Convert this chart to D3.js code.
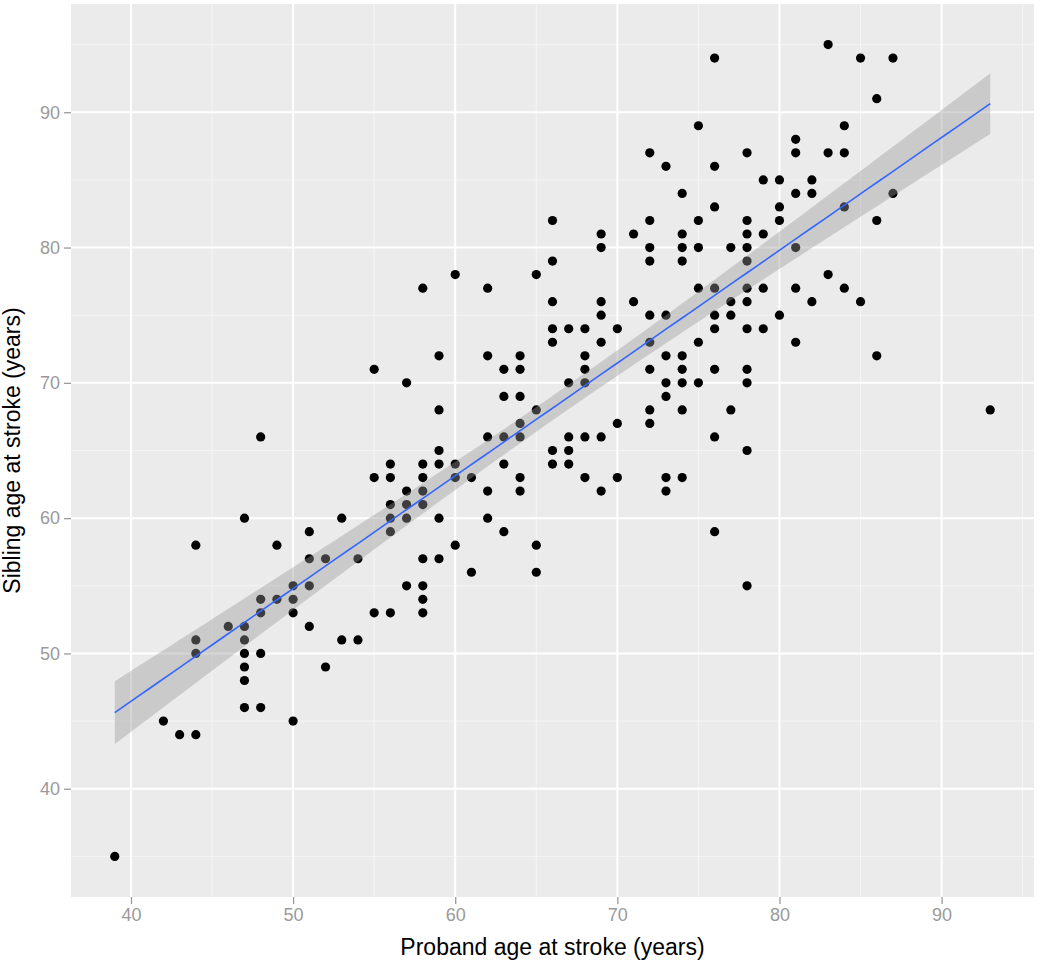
<!DOCTYPE html>
<html><head><meta charset="utf-8">
<script src="https://cdn.jsdelivr.net/npm/d3@7"></script>
<style>body{margin:0;background:#fff}svg{display:block}</style>
</head><body><svg id="c" width="1050" height="964"></svg>
<script>
const probandAge = [48,47,44,49,50,50,50,50,48,49,48,46,47,47,47,48,47,47,47,48,44,44,42,43,44,39,
59,55,57,59,59,56,58,59,60,55,56,58,60,57,58,56,57,58,56,57,59,53,56,51,60,51,52,54,58,59,51,57,58,58,55,56,58,51,53,54,52,58,
66,69,69,60,65,66,62,66,69,69,66,67,68,66,69,62,64,68,63,64,68,67,68,63,64,65,64,62,63,64,67,68,69,66,67,63,66,67,61,64,68,62,64,69,62,63,65,61,65,
75,72,73,74,72,75,71,74,72,74,75,72,74,75,71,72,73,70,72,75,73,74,72,74,
76,78,76,79,80,76,80,78,80,78,79,77,78,78,76,78,79,77,78,76,77,80,76,78,79,
76,78,73,74,75,78,73,72,74,77,70,72,76,78,70,73,74,73,76,78,
83,85,87,86,84,81,81,83,84,82,81,82,87,84,86,81,83,81,84,82,85,81,86,93];
const siblingAge = [66,60,58,58,55,54,53,45,54,54,53,52,52,51,50,50,49,48,46,46,51,50,45,44,44,35,
72,71,70,68,65,64,64,64,64,63,63,63,63,62,62,61,61,61,60,60,60,60,59,59,58,57,57,57,57,57,55,55,55,54,53,53,53,52,51,51,49,77,
82,81,80,78,78,79,77,76,76,75,74,74,74,73,73,72,72,72,71,71,71,70,70,69,69,68,67,66,66,66,66,66,66,65,65,64,64,64,63,63,63,62,62,62,60,59,58,56,56,
89,87,86,84,82,82,81,81,80,80,80,79,79,77,76,75,75,74,73,73,72,72,71,71,
94,87,86,85,85,83,83,82,82,81,81,80,80,79,77,77,77,76,76,75,75,75,74,74,74,
71,71,70,70,70,70,69,68,68,68,67,67,66,65,63,63,63,62,59,55,
95,94,94,91,89,88,87,87,87,85,84,84,84,83,82,80,78,77,77,76,76,73,72,68];
const xTicks = [40,50,60,70,80,90];
const yTicks = [40,50,60,70,80,90];
const xMinor = [45,55,65,75,85,95];
const yMinor = [35,45,55,65,75,85,95];
const xTitle = "Proband age at stroke (years)";
const yTitle = "Sibling age at stroke (years)";

const svg = d3.select("#c");
const P = {l:71, t:4, r:1034, b:897};
const x = d3.scaleLinear().domain([36.3,95.7]).range([P.l,P.r]);
const y = d3.scaleLinear().domain([32,98]).range([P.b,P.t]);
const font = "'Liberation Sans', Arial, Helvetica, sans-serif";

svg.append("rect").attr("x",P.l).attr("y",P.t).attr("width",P.r-P.l).attr("height",P.b-P.t).attr("fill","#EBEBEB");
const grid = svg.append("g");
grid.selectAll(".xm").data(xMinor).join("line").attr("x1",d=>x(d)).attr("x2",d=>x(d)).attr("y1",P.t).attr("y2",P.b).attr("stroke","#F5F5F5").attr("stroke-width",1);
grid.selectAll(".ym").data(yMinor).join("line").attr("y1",d=>y(d)).attr("y2",d=>y(d)).attr("x1",P.l).attr("x2",P.r).attr("stroke","#F5F5F5").attr("stroke-width",1);
grid.selectAll(".xM").data(xTicks).join("line").attr("x1",d=>x(d)).attr("x2",d=>x(d)).attr("y1",P.t).attr("y2",P.b).attr("stroke","#FFFFFF").attr("stroke-width",2);
grid.selectAll(".yM").data(yTicks).join("line").attr("y1",d=>y(d)).attr("y2",d=>y(d)).attr("x1",P.l).attr("x2",P.r).attr("stroke","#FFFFFF").attr("stroke-width",2);

// points
const pts = probandAge.map((v,i)=>({x:v,y:siblingAge[i]}));
svg.append("g").selectAll("circle").data(pts).join("circle")
  .attr("cx",d=>x(d.x)).attr("cy",d=>y(d.y)).attr("r",4.6).attr("fill","#000");

// linear model fit (geom_smooth method = lm)
const n = pts.length;
const mx = d3.mean(pts,d=>d.x), my = d3.mean(pts,d=>d.y);
const sxx = d3.sum(pts,d=>(d.x-mx)*(d.x-mx));
const sxy = d3.sum(pts,d=>(d.x-mx)*(d.y-my));
const b = sxy/sxx, a = my - b*mx;
const s = Math.sqrt(d3.sum(pts,d=>Math.pow(d.y-(a+b*d.x),2))/(n-2));
const tq = 1.971;
const [x0,x1] = d3.extent(probandAge);
const grid80 = d3.range(80).map(i=>x0+(x1-x0)*i/79);
const fit = grid80.map(v=>{const f=a+b*v; const se=s*Math.sqrt(1/n+(v-mx)*(v-mx)/sxx); return {x:v,f:f,lo:f-tq*se,hi:f+tq*se};});
svg.append("path").datum(fit).attr("d",d3.area().x(d=>x(d.x)).y0(d=>y(d.lo)).y1(d=>y(d.hi)))
  .attr("fill","#999999").attr("fill-opacity",0.4);
svg.append("path").datum(fit).attr("d",d3.line().x(d=>x(d.x)).y(d=>y(d.f)))
  .attr("fill","none").attr("stroke","#3366FF").attr("stroke-width",1.6);

// axes
const xAxis = svg.append("g").attr("transform",`translate(0,${P.b})`)
  .call(d3.axisBottom(x).tickValues(xTicks).tickSize(7).tickPadding(4).tickFormat(d3.format("d")));
const yAxis = svg.append("g").attr("transform",`translate(${P.l},0)`)
  .call(d3.axisLeft(y).tickValues(yTicks).tickSize(7).tickPadding(4).tickFormat(d3.format("d")));
[xAxis,yAxis].forEach(g=>{
  g.select(".domain").remove();
  g.selectAll(".tick line").attr("stroke","#9A9A9A").attr("stroke-width",1.3);
  g.selectAll(".tick text").attr("fill","#9A9A9A").style("font-family",font).style("font-size","18px");
});
svg.append("text").attr("x",(P.l+P.r)/2).attr("y",955).attr("text-anchor","middle")
  .style("font-family",font).style("font-size","23px").attr("fill","#000").text(xTitle);
svg.append("text").attr("transform",`translate(20,${(P.t+P.b)/2}) rotate(-90)`).attr("text-anchor","middle")
  .style("font-family",font).style("font-size","23px").attr("fill","#000").text(yTitle);
</script></body></html>
